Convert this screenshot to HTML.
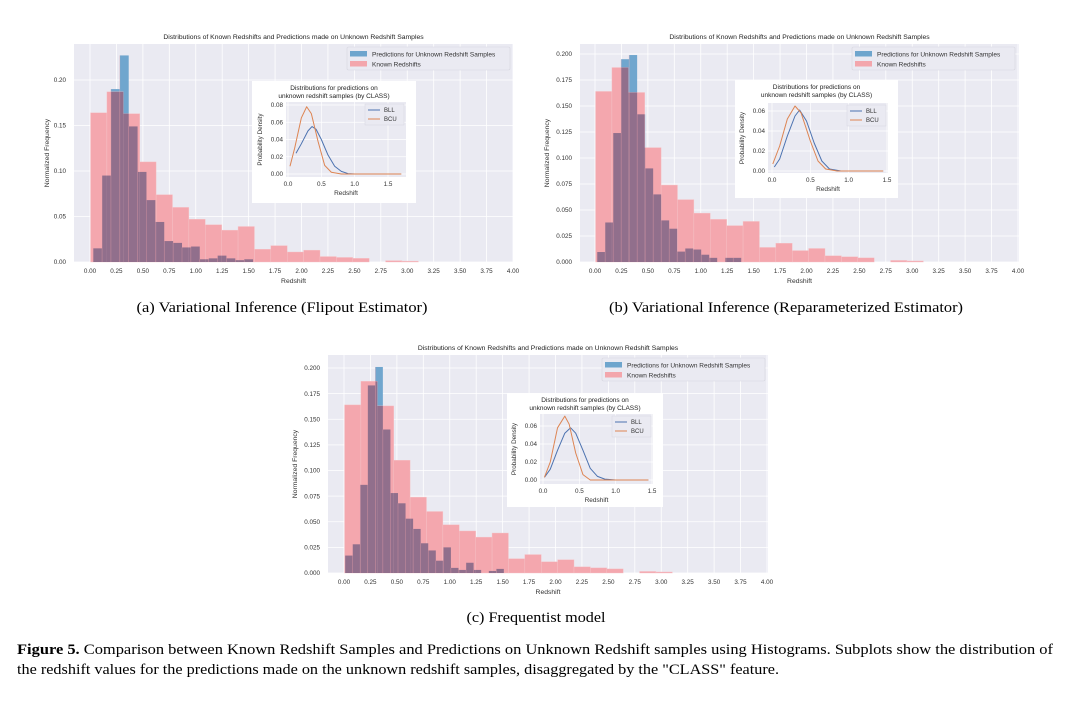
<!DOCTYPE html>
<html><head><meta charset="utf-8">
<style>
html,body{margin:0;padding:0;background:#fff;}
svg{display:block;}
text{font-family:"Liberation Sans",Arial,sans-serif;}
.serif{font-family:"Liberation Serif","Times New Roman",serif;}
</style></head>
<body>
<svg id="fig" width="1068" height="706" viewBox="0 0 1068 706" xmlns="http://www.w3.org/2000/svg">
<rect x="0" y="0" width="1068" height="706" fill="#fff"/>
<text class="serif" x="282" y="312" font-size="15" text-anchor="middle" textLength="291" lengthAdjust="spacingAndGlyphs" fill="#000">(a) Variational Inference (Flipout Estimator)</text>
<text class="serif" x="786" y="312" font-size="15" text-anchor="middle" textLength="354" lengthAdjust="spacingAndGlyphs" fill="#000">(b) Variational Inference (Reparameterized Estimator)</text>
<text class="serif" x="536" y="622" font-size="15" text-anchor="middle" textLength="139" lengthAdjust="spacingAndGlyphs" fill="#000">(c) Frequentist model</text>
<text class="serif" x="17" y="654" font-size="15" textLength="1036" lengthAdjust="spacingAndGlyphs" fill="#000"><tspan font-weight="bold">Figure 5.</tspan> Comparison between Known Redshift Samples and Predictions on Unknown Redshift samples using Histograms. Subplots show the distribution of</text>
<text class="serif" x="17" y="674" font-size="15" textLength="762" lengthAdjust="spacingAndGlyphs" fill="#000">the redshift values for the predictions made on the unknown redshift samples, disaggregated by the "CLASS" feature.</text>
</svg>
<script>
// ---- data ----
const knownHeights = [0.164,0.187,0.163,0.110,0.074,0.060,0.047,0.041,0.035,0.039,0.014,0.018,0.011,0.013,0.006,0.005,0.004,0,0.0015,0.001];
const knownStart = 0.005;
const knownWidth = 0.155;
const predA = [0.015,0.095,0.190,0.227,0.149,0.099,0.068,0.044,0.023,0.021,0.016,0.017,0.003,0.004,0.007,0.004,0.002,0.003];
const predAStart = 0.03, predAWidth = 0.084;
const predB = [0.0096,0.038,0.124,0.195,0.199,0.142,0.090,0.065,0.040,0.032,0.010,0.013,0.012,0.007,0.004,0,0.004,0.004];
const predBStart = 0.02, predBWidth = 0.0757;
const predC = [0.017,0.028,0.086,0.183,0.201,0.140,0.078,0.068,0.053,0.043,0.029,0.022,0.012,0.025,0.005,0.003,0.010,0.003,0,0.002,0.004];
const predCStart = 0.01, predCWidth = 0.0715;
const xTicks = [0,0.25,0.5,0.75,1,1.25,1.5,1.75,2,2.25,2.5,2.75,3,3.25,3.5,3.75,4];
const yTicksA = [0,0.05,0.10,0.15,0.20];
const yTicksBC = [0,0.025,0.05,0.075,0.1,0.125,0.15,0.175,0.2];
const insetXTicks = [0,0.5,1.0,1.5];
const insetYTicksA = [0,0.02,0.04,0.06,0.08];
const insetYTicksBC = [0,0.02,0.04,0.06];
const bllAx = [0.12,0.2,0.3,0.36,0.42,0.5,0.6,0.7,0.8,0.9,1.0,1.5];
const bllAy = [0.024,0.035,0.05,0.055,0.052,0.04,0.022,0.009,0.003,0.0005,0,0];
const bcuAx = [0.03,0.1,0.2,0.28,0.35,0.45,0.55,0.65,0.8,1.7];
const bcuAy = [0.009,0.03,0.065,0.078,0.07,0.038,0.01,0.002,0,0];
const bllBx = [0.03,0.1,0.2,0.3,0.36,0.45,0.55,0.65,0.75,0.9,1.45];
const bllBy = [0.004,0.012,0.035,0.055,0.061,0.05,0.028,0.01,0.002,0,0];
const bcuBx = [0.01,0.1,0.2,0.3,0.38,0.5,0.6,0.7,0.85,1.45];
const bcuBy = [0.007,0.025,0.052,0.065,0.058,0.03,0.01,0.002,0,0];
const bllCx = [0.02,0.1,0.2,0.3,0.38,0.45,0.55,0.65,0.75,0.85,1.0,1.45];
const bllCy = [0.003,0.012,0.033,0.052,0.058,0.052,0.033,0.013,0.004,0.001,0,0];
const bcuCx = [0.02,0.1,0.2,0.3,0.36,0.45,0.55,0.65,1.45];
const bcuCy = [0.003,0.02,0.058,0.071,0.062,0.03,0.006,0,0];

const NS = 'http://www.w3.org/2000/svg';
const fig = document.getElementById('fig');
function mk(tag, attrs, parent){
  const e = document.createElementNS(NS, tag);
  for (const k in attrs) e.setAttribute(k, attrs[k]);
  (parent||fig).appendChild(e);
  return e;
}
function txt(str, attrs, parent){ const t = mk('text', attrs, parent); t.textContent = str; return t; }

function drawPanel(p){
  const g = mk('g', {});
  
  
  const sx = v => p.x0 + (p.x4 - p.x0) * v / 4;
  const sy = v => p.yb - (p.yb - p.y02) * v / 0.2;
  const bg = mk('rect', {x:p.L, y:p.T, width:p.R-p.L, height:p.yb-p.T, fill:'#eaeaf2'}, g);
  
  
  xTicks.forEach(v => {
    mk('line', {x1:sx(v), x2:sx(v), y1:p.T, y2:p.yb, stroke:'#fff', 'stroke-width':0.8}, g);
    const t = txt(v.toFixed(2), {x:sx(v), y:p.yb+11, 'font-size':6.3, fill:'#333', 'text-anchor':'middle'}, g);
    
    
  });
  p.yTicks.forEach(v => {
    mk('line', {x1:p.L, x2:p.R, y1:sy(v), y2:sy(v), stroke:'#fff', 'stroke-width':0.8}, g);
    const t = txt(v.toFixed(p.yDec), {x:p.L-8, y:sy(v)+2.2, 'font-size':6.3, fill:'#333', 'text-anchor':'end'}, g);
    
    
  });
  const bars = mk('g', {}, g);
  // blue prediction bars
  p.pred.forEach((h, i) => {
    if (h <= 0) return;
    const x = sx(p.pStart + i*p.pWidth);
    const r = mk('rect', {x:x, y:sy(h), width:sx(p.pStart+(i+1)*p.pWidth)-x, height:p.yb-sy(h), fill:'rgb(112,166,206)'}, bars);
    
    
  });
  // pink known bars
  knownHeights.forEach((h, i) => {
    if (h <= 0) return;
    const x = sx(knownStart + i*knownWidth);
    const r = mk('rect', {x:x, y:sy(h), width:sx(knownStart+(i+1)*knownWidth)-x, height:p.yb-sy(h), fill:'rgb(244,167,174)', stroke:'#f6c4c8', 'stroke-width':0.4}, bars);
    
    
  });
  // overlap (blend) regions
  p.pred.forEach((h, i) => {
    if (h <= 0) return;
    const a0 = p.pStart + i*p.pWidth, a1 = a0 + p.pWidth;
    knownHeights.forEach((k, j) => {
      const b0 = knownStart + j*knownWidth, b1 = b0 + knownWidth;
      const lo = Math.max(a0, b0), hi = Math.min(a1, b1), hh = Math.min(h, k);
      if (hi <= lo || hh <= 0) return;
      const r = mk('rect', {x:sx(lo), y:sy(hh), width:sx(hi)-sx(lo), height:p.yb-sy(hh), fill:'rgb(145,111,140)'}, bars);
      
      
    });
    const x = sx(a0);
    mk('line', {x1:x, x2:x, y1:sy(Math.min(h, 0.25)), y2:p.yb, stroke:'rgba(244,167,174,0.45)', 'stroke-width':0.6}, bars);
  });
  const tt = txt('Distributions of Known Redshifts and Predictions made on Unknown Redshift Samples', {x:(p.L+p.R)/2, y:p.T-5, 'font-size':6.8, fill:'#222', 'text-anchor':'middle'}, g);
  
  
  const xl = txt('Redshift', {x:(p.L+p.R)/2, y:p.yb+21, 'font-size':6.8, fill:'#333', 'text-anchor':'middle'}, g);
  
  
  const yl = txt('Normalized Frequency', {x:0, y:0, 'font-size':6.8, fill:'#333', 'text-anchor':'middle', transform:`translate(${p.ylx},${(p.T+p.yb)/2}) rotate(-90)`}, g);
  
  
  const lg = mk('g', {}, g);
  
  
  mk('rect', {x:p.lgx, y:p.lgy, width:163, height:23, fill:'#eaeaf2', stroke:'#d6d6df', 'stroke-width':0.6, rx:1.5}, lg);
  mk('rect', {x:p.lgx+3, y:p.lgy+4, width:17, height:5.5, fill:'rgb(110,165,205)'}, lg);
  mk('rect', {x:p.lgx+3, y:p.lgy+14, width:17, height:5.5, fill:'rgb(243,166,172)'}, lg);
  const l1 = txt('Predictions for Unknown Redshift Samples', {x:p.lgx+25, y:p.lgy+9.5, 'font-size':6.5, fill:'#333'}, lg);
  
  
  const l2 = txt('Known Redshifts', {x:p.lgx+25, y:p.lgy+19.5, 'font-size':6.5, fill:'#333'}, lg);
  
  
  const ig = mk('g', {}, g);
  
  
  const q = p.inset;
  mk('rect', {x:q.bx, y:q.by, width:q.bw, height:q.bh, fill:'#fff'}, ig);
  mk('rect', {x:q.L, y:q.T, width:q.R-q.L, height:q.B-q.T, fill:'#eaeaf2'}, ig);
  const ix = v => q.x0 + (q.x15 - q.x0) * v / 1.5;
  const iy = v => q.y0 - (q.y0 - q.yt) * v / q.ytv;
  insetXTicks.forEach(v => {
    mk('line', {x1:ix(v), x2:ix(v), y1:q.T, y2:q.B, stroke:'#fff', 'stroke-width':0.7}, ig);
    const t = txt(v.toFixed(1), {x:ix(v), y:q.B+9, 'font-size':6.3, fill:'#333', 'text-anchor':'middle'}, ig);
    
    
  });
  q.yTicks.forEach(v => {
    mk('line', {x1:q.L, x2:q.R, y1:iy(v), y2:iy(v), stroke:'#fff', 'stroke-width':0.7}, ig);
    const t = txt(v.toFixed(2), {x:q.L-3, y:iy(v)+2.2, 'font-size':6.3, fill:'#333', 'text-anchor':'end'}, ig);
    
    
  });
  const line = (xs, ys, col, nm) => {
    const d = xs.map((x, i) => (i ? 'L' : 'M') + ix(x).toFixed(2) + ',' + iy(ys[i]).toFixed(2)).join(' ');
    const pl = mk('path', {d:d, fill:'none', stroke:col, 'stroke-width':1, 'stroke-linejoin':'round'}, ig);
    
    
  };
  line(q.bllx, q.blly, '#4c72b0', 'bll-density-line');
  line(q.bcux, q.bcuy, '#dd8452', 'bcu-density-line');
  const cx = (q.bx + q.bx + q.bw)/2;
  const it1 = txt('Distributions for predictions on', {x:cx, y:q.by+9, 'font-size':6.5, fill:'#222', 'text-anchor':'middle'}, ig);
  
  
  const it2 = txt('unknown redshift samples (by CLASS)', {x:cx, y:q.by+17, 'font-size':6.5, fill:'#222', 'text-anchor':'middle'}, ig);
  
  
  const ixl = txt('Redshift', {x:(q.L+q.R)/2, y:q.B+18, 'font-size':6.5, fill:'#333', 'text-anchor':'middle'}, ig);
  
  
  const iyl = txt('Probability Density', {x:0, y:0, 'font-size':6.3, fill:'#333', 'text-anchor':'middle', transform:`translate(${q.L-24},${(q.T+q.B)/2}) rotate(-90)`}, ig);
  
  
  const ilg = mk('g', {}, ig);
  
  
  mk('rect', {x:q.R-41, y:q.T+2, width:39, height:21, fill:'#eaeaf2', stroke:'#d6d6df', 'stroke-width':0.5}, ilg);
  mk('line', {x1:q.R-38, x2:q.R-26, y1:q.T+8, y2:q.T+8, stroke:'#4c72b0', 'stroke-width':1}, ilg);
  mk('line', {x1:q.R-38, x2:q.R-26, y1:q.T+17, y2:q.T+17, stroke:'#dd8452', 'stroke-width':1}, ilg);
  txt('BLL', {x:q.R-22, y:q.T+10, 'font-size':6, fill:'#333'}, ilg);
  txt('BCU', {x:q.R-22, y:q.T+19, 'font-size':6, fill:'#333'}, ilg);
}

drawPanel({name:'panel-a-flipout', L:74, R:513, T:44, yb:262, x0:90, x4:513, y02:80, ylx:49,
  yTicks:yTicksA, yDec:2, pred:predA, pStart:predAStart, pWidth:predAWidth, lgx:347, lgy:47,
  inset:{bx:252, by:81, bw:164, bh:122, L:286, R:406, T:102, B:177, x0:288, x15:388, y0:174, yt:105, ytv:0.08,
    yTicks:insetYTicksA, bllx:bllAx, blly:bllAy, bcux:bcuAx, bcuy:bcuAy}});
drawPanel({name:'panel-b-reparameterized', L:580, R:1019, T:44, yb:262, x0:595, x4:1018, y02:54, ylx:549,
  yTicks:yTicksBC, yDec:3, pred:predB, pStart:predBStart, pWidth:predBWidth, lgx:852, lgy:47,
  inset:{bx:735, by:80, bw:163, bh:118, L:768, R:888, T:103, B:173, x0:772, x15:887, y0:171, yt:111, ytv:0.06,
    yTicks:insetYTicksBC, bllx:bllBx, blly:bllBy, bcux:bcuBx, bcuy:bcuBy}});
drawPanel({name:'panel-c-frequentist', L:328, R:768, T:355, yb:573, x0:344, x4:767, y02:368, ylx:297,
  yTicks:yTicksBC, yDec:3, pred:predC, pStart:predCStart, pWidth:predCWidth, lgx:602, lgy:358,
  inset:{bx:507, by:393, bw:156, bh:114, L:540, R:653, T:414, B:484, x0:543, x15:652, y0:480, yt:426, ytv:0.06,
    yTicks:insetYTicksBC, bllx:bllCx, blly:bllCy, bcux:bcuCx, bcuy:bcuCy}});
</script>
</body></html>
